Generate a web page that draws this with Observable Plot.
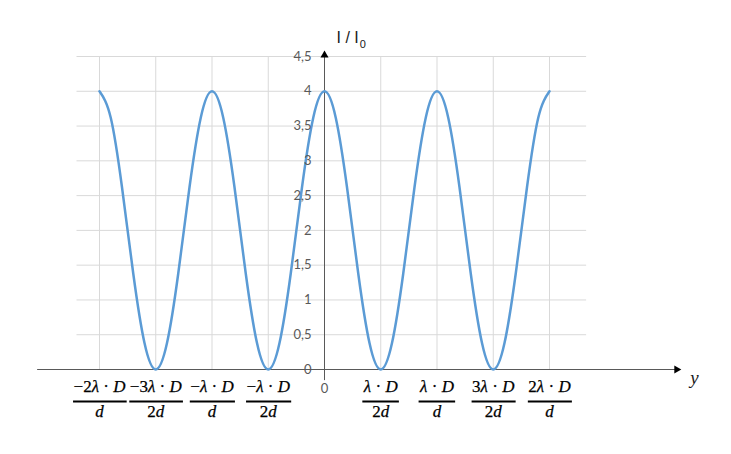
<!DOCTYPE html>
<html><head><meta charset="utf-8">
<script src="https://cdn.jsdelivr.net/npm/d3@7"></script>
<script src="https://cdn.jsdelivr.net/npm/@observablehq/plot@0.6"></script>
<style>body{margin:0;background:#fff} svg{overflow:visible}</style>
</head><body><div id="chart"></div>
<script>
// position on screen, in units of λ·D/d
const positions = [-2.0,-1.9,-1.8,-1.7,-1.6,-1.5,-1.4,-1.3,-1.2,-1.1,
                   -1.0,-0.9,-0.8,-0.7,-0.6,-0.5,-0.4,-0.3,-0.2,-0.1,
                    0.0, 0.1, 0.2, 0.3, 0.4, 0.5, 0.6, 0.7, 0.8, 0.9,
                    1.0, 1.1, 1.2, 1.3, 1.4, 1.5, 1.6, 1.7, 1.8, 1.9,
                    2.0];
// relative intensity I / I0
const intensity = [4.00,3.62,2.62,1.38,0.38,0.00,0.38,1.38,2.62,3.62,
                   4.00,3.62,2.62,1.38,0.38,0.00,0.38,1.38,2.62,3.62,
                   4.00,3.62,2.62,1.38,0.38,0.00,0.38,1.38,2.62,3.62,
                   4.00,3.62,2.62,1.38,0.38,0.00,0.38,1.38,2.62,3.62,
                   4.00];
const tickPos = [-2,-1.5,-1,-0.5,0.5,1,1.5,2];
const numerators = ["−2λ · D","−3λ · D","−λ · D","−λ · D","λ · D","λ · D","3λ · D","2λ · D"];
const denominators = ["d","2d","d","2d","2d","d","2d","d"];
const gridX = [-2,-1.5,-1,-0.5,0,0.5,1,1.5,2];
const yTicks = [0,0.5,1,1.5,2,2.5,3,3.5,4,4.5];
const yTickLabels = ["0","0,5","1","1,5","2","2,5","3","3,5","4","4,5"];
const zeroLabel = "0";
const yAxisLabel = "I / I";
const yAxisSub = "0";
const xAxisLabel = "y";

const data = positions.map((p, i) => ({p, v: intensity[i]}));
const serif = "'Liberation Serif', 'DejaVu Serif', serif";
const NUM_DY = 17, DEN_DY = 42, BAR_DY = 32;

const chart = Plot.plot({
  width: 731, height: 454,
  marginLeft: 99, marginRight: 182, marginTop: 56, marginBottom: 85,
  x: {domain: [-2, 2], axis: null},
  y: {domain: [0, 4.5], axis: null},
  style: {background: "#fff", overflow: "visible"},
  marks: [
    Plot.ruleY(yTicks, {x1: -2.2, x2: 2.33, stroke: "#d9d9d9", strokeWidth: 1}),
    Plot.ruleX(gridX, {y1: 0, y2: 4.5, stroke: "#d9d9d9", strokeWidth: 1}),
    Plot.ruleY([0], {x1: -2.55, x2: 3.12, stroke: "#595959", strokeWidth: 1}),
    Plot.ruleX([0], {y1: -0.16, y2: 4.52, stroke: "#595959", strokeWidth: 1}),
    Plot.dot([0], {x: 3.13, y: 0, symbol: "triangle", rotate: 90, r: 3, fill: "#000"}),
    Plot.dot([0], {x: 0, y: 4.52, symbol: "triangle", r: 3, fill: "#000"}),
    Plot.line(data, {x: "p", y: "v", stroke: "#5b9bd5", strokeWidth: 2.5, curve: "natural"}),
    Plot.text(yTicks, {x: 0, y: d => d, text: (d, i) => yTickLabels[i], textAnchor: "end", dx: -13,
      fill: "#595959", fontSize: 13, fontFamily: "Lato, 'Open Sans', sans-serif"}),
    Plot.text([0], {x: 0, y: 0, text: [zeroLabel], dy: 19, fill: "#595959", fontSize: 13,
      fontFamily: "Lato, 'Open Sans', sans-serif"}),
    Plot.text(tickPos, {x: d => d, y: 0, text: (d, i) => numerators[i], dy: NUM_DY, fontSize: 17,
      fontFamily: serif, fill: "#000", stroke: "#000", strokeWidth: 0.25, ariaDescription: "numerators"}),
    Plot.text(tickPos, {x: d => d, y: 0, text: (d, i) => denominators[i], dy: DEN_DY, fontSize: 17,
      fontFamily: serif, fill: "#000", stroke: "#000", strokeWidth: 0.25, ariaDescription: "denominators"}),
    Plot.text([0], {x: 0, y: 4.5, text: [yAxisLabel], textAnchor: "start", dx: 12, dy: -19, fontSize: 16,
      fontFamily: "'Liberation Sans', sans-serif", fill: "#1a1a1a", ariaDescription: "ylabel"}),
    Plot.text([0], {x: 0, y: 0, text: [xAxisLabel], dx: 370, dy: 8, fontSize: 19, fontStyle: "italic",
      fontFamily: serif, fill: "#1a1a1a"})
  ]
});
document.getElementById("chart").append(chart);

// math-style labels: italic letters, upright digits and operators
const NS = "http://www.w3.org/2000/svg";
function richify(t) {
  const s = t.textContent;
  t.textContent = "";
  for (const part of s.split(/([A-Za-zλ]+)/)) {
    if (!part) continue;
    const ts = document.createElementNS(NS, "tspan");
    ts.textContent = part;
    if (/[A-Za-zλ]/.test(part)) ts.setAttribute("font-style", "italic");
    t.appendChild(ts);
  }
}
const y0 = chart.scale("y").apply(0);
chart.querySelectorAll('g[aria-description="denominators"] text').forEach(richify);
chart.querySelectorAll('g[aria-description="numerators"] text').forEach(t => {
  richify(t);
  const b = t.getBBox();
  const m = /translate\(([^,\s]+)[,\s]+([^)]+)\)/.exec(t.getAttribute("transform") || "");
  const tx = m ? +m[1] : (+t.getAttribute("x") || 0);
  const ln = document.createElementNS(NS, "line");
  ln.setAttribute("x1", tx + b.x - 0.5);
  ln.setAttribute("x2", tx + b.x + b.width + 0.5);
  ln.setAttribute("y1", y0 + BAR_DY - NUM_DY);
  ln.setAttribute("y2", y0 + BAR_DY - NUM_DY);
  ln.setAttribute("stroke", "#000");
  ln.setAttribute("stroke-width", 1.8);
  t.parentNode.appendChild(ln);
});
chart.querySelectorAll('g[aria-description="ylabel"] text').forEach(t => {
  const ts = document.createElementNS(NS, "tspan");
  ts.textContent = yAxisSub;
  ts.setAttribute("font-size", "11");
  ts.setAttribute("dy", "5");
  ts.setAttribute("dx", "1");
  t.appendChild(ts);
});
</script></body></html>
